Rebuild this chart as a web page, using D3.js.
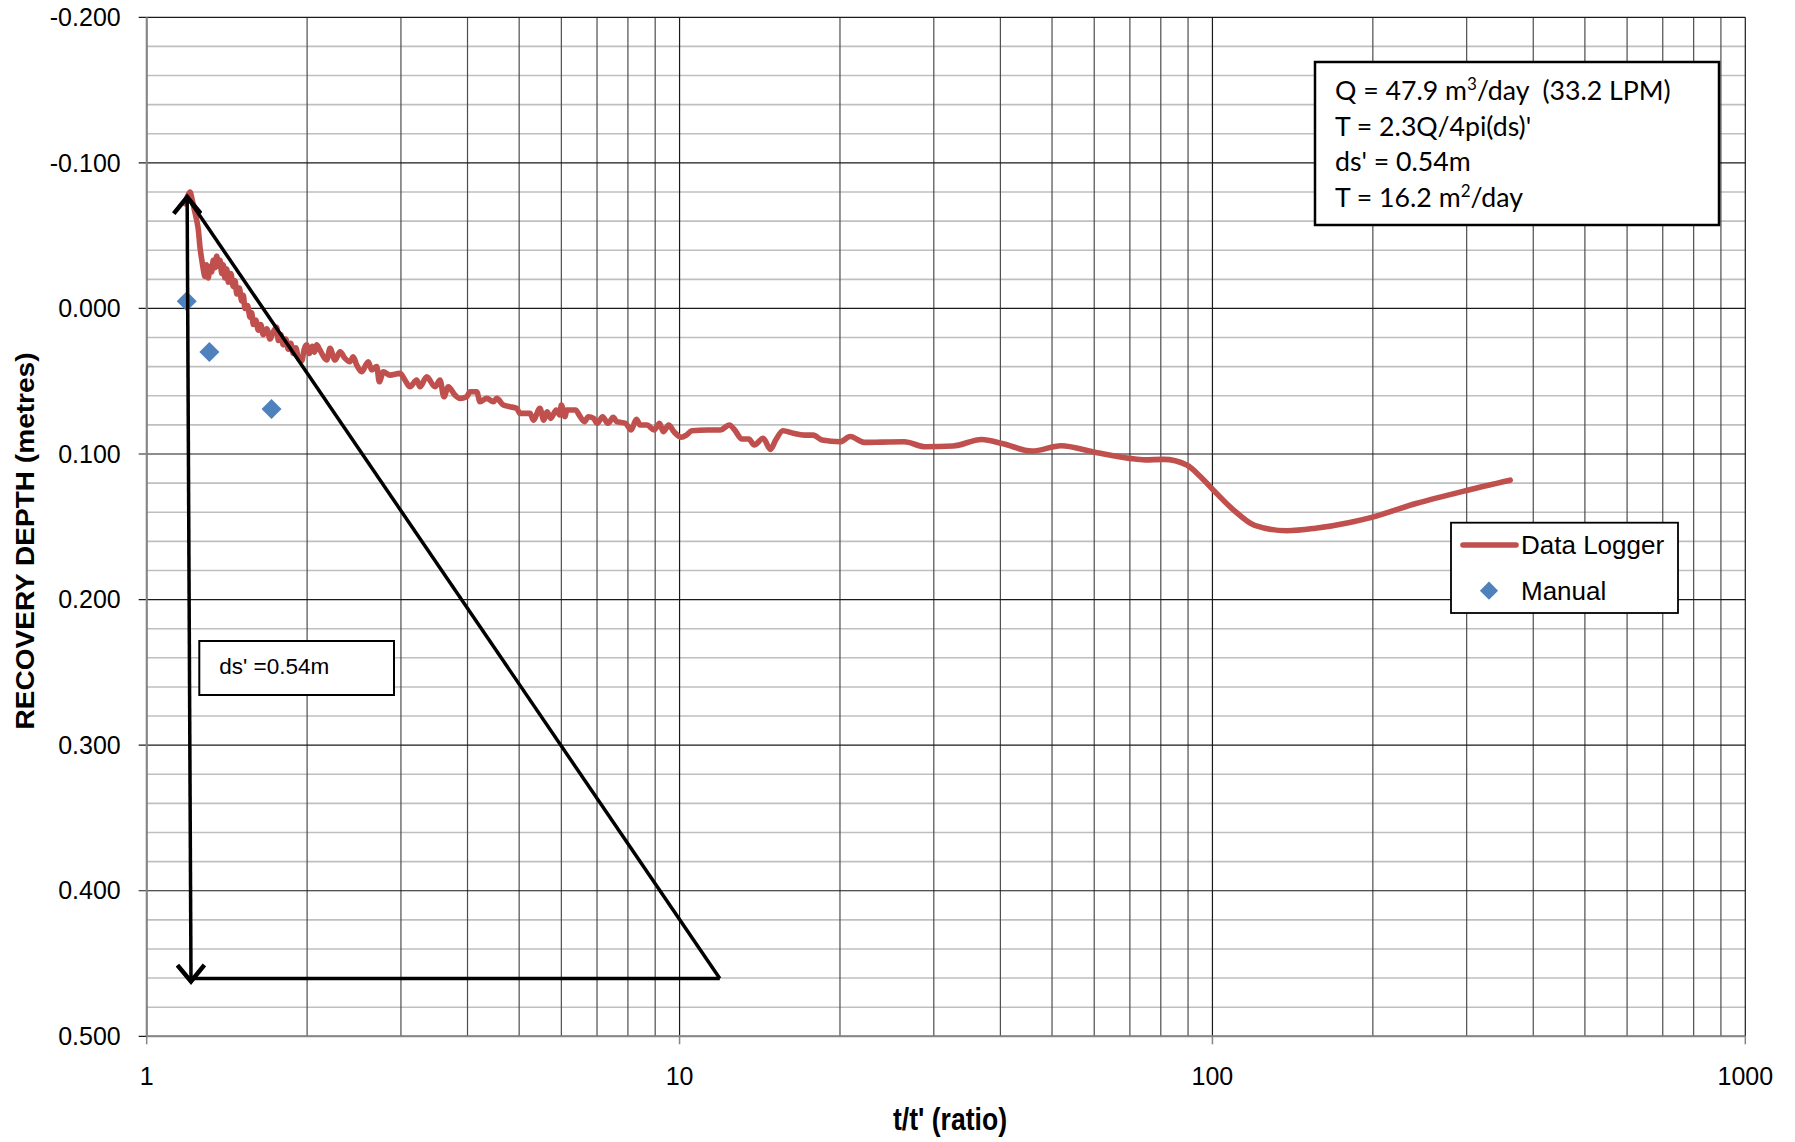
<!DOCTYPE html>
<html>
<head>
<meta charset="utf-8">
<script src="https://cdn.jsdelivr.net/npm/d3@7"></script>
<style>
  html, body { margin: 0; padding: 0; background: #ffffff; }
  svg { display: block; }
</style>
</head>
<body>
<svg id="chart" width="1795" height="1142"></svg>
<script>
// Recovery test - data logger readings (t/t' ratio vs recovery depth in metres)
const loggerRatio = [
    1.180, 1.196, 1.206, 1.218, 1.232, 1.242, 1.250, 1.259, 1.268, 1.277,
    1.286, 1.295, 1.305, 1.314, 1.324, 1.333, 1.343, 1.353, 1.363, 1.373,
    1.383, 1.392, 1.402, 1.413, 1.423, 1.438, 1.454, 1.465, 1.476, 1.492,
    1.508, 1.518, 1.529, 1.546, 1.563, 1.574, 1.585, 1.602, 1.620, 1.637,
    1.655, 1.680, 1.704, 1.728, 1.754, 1.766, 1.785, 1.804, 1.824, 1.844,
    1.864, 1.884, 1.905, 1.925, 1.954, 1.975, 1.996, 2.020, 2.045, 2.065,
    2.084, 2.114, 2.177, 2.208, 2.256, 2.306, 2.356, 2.407, 2.441, 2.478,
    2.531, 2.605, 2.644, 2.702, 2.732, 2.780, 2.861, 2.987, 3.053, 3.119,
    3.211, 3.257, 3.353, 3.475, 3.551, 3.613, 3.681, 3.789, 3.872, 3.986,
    4.044, 4.162, 4.222, 4.346, 4.472, 4.539, 4.670, 4.806, 4.947, 5.018,
    5.241, 5.316, 5.47, 5.56, 5.64, 5.73, 5.87, 5.96, 6.00, 6.10,
    6.14, 6.38, 6.48, 6.63, 6.74, 6.90, 7.00, 7.17, 7.34, 7.51,
    7.62, 7.92, 8.11, 8.30, 8.43, 8.69, 8.96, 9.17, 9.32, 9.54,
    9.76, 10.07, 10.30, 10.54, 11.30, 11.93, 12.40, 12.69, 13.09, 13.49,
    13.81, 14.35, 14.81, 15.15, 15.63, 16.36, 17.14, 17.81, 18.51, 20.0,
    20.9, 22.2, 24.0, 26.4, 28.9, 32.6, 36.9, 40.5, 45.9, 52.0,
    59.6, 70.0, 74.7, 81.0, 89.5, 95.0, 100.4, 109.6, 120, 138,
    156, 181, 199, 241, 300, 362
];
const loggerDepth = [
    -0.072, -0.078, -0.080, -0.074, -0.066, -0.060, -0.054, -0.042, -0.034, -0.027,
    -0.022, -0.030, -0.021, -0.029, -0.025, -0.033, -0.028, -0.036, -0.029, -0.033,
    -0.024, -0.030, -0.021, -0.027, -0.018, -0.024, -0.015, -0.019, -0.010, -0.014,
    -0.005, -0.009, 0.000, -0.002, 0.006, 0.003, 0.011, 0.008, 0.015, 0.011,
    0.018, 0.014, 0.021, 0.016, 0.013, 0.022, 0.018, 0.025, 0.021, 0.028,
    0.024, 0.031, 0.027, 0.034, 0.036, 0.028, 0.025, 0.031, 0.026, 0.030,
    0.025, 0.0286, 0.0354, 0.0274, 0.0354, 0.0297, 0.0343, 0.0366, 0.0332, 0.0389,
    0.0435, 0.0366, 0.0423, 0.0400, 0.0504, 0.0435, 0.0458, 0.0446, 0.0492, 0.0538,
    0.0492, 0.0538, 0.0469, 0.0538, 0.0492, 0.0607, 0.0538, 0.0595, 0.0618, 0.0607,
    0.0572, 0.0572, 0.0641, 0.0618, 0.0641, 0.0618, 0.0664, 0.0675, 0.0686, 0.0721,
    0.0721, 0.0767, 0.0686, 0.0767, 0.0710, 0.0755, 0.0698, 0.0732, 0.0664, 0.0744,
    0.0698, 0.0698, 0.0732, 0.0778, 0.0744, 0.0755, 0.0789, 0.0744, 0.0789, 0.0748,
    0.0778, 0.0789, 0.0835, 0.0762, 0.0801, 0.0801, 0.0835, 0.0789, 0.0847, 0.0801,
    0.0847, 0.0885, 0.0870, 0.0840, 0.0835, 0.0835, 0.0801, 0.0835, 0.0897, 0.0897,
    0.0938, 0.0892, 0.0968, 0.0904, 0.0840, 0.0858, 0.0870, 0.0870, 0.0904, 0.0916,
    0.088, 0.092, 0.0918, 0.0916, 0.095, 0.0945, 0.090, 0.093, 0.098, 0.0943,
    0.0984, 0.103, 0.104, 0.1037, 0.1076, 0.1156, 0.1248, 0.1385, 0.149, 0.1527,
    0.151, 0.147, 0.1435, 0.134, 0.125, 0.118
];

// Manual dip-meter readings
const manualRatio = [1.189, 1.311, 1.715];
const manualDepth = [-0.005, 0.030, 0.069];

// ds' construction: apex, foot of the vertical arrow, end of the horizontal leg
const slopeRatio = [1.191, 1.211, 11.9];
const slopeDepth = [-0.0765, 0.4603, 0.4603];

const yTickValues = [-0.2, -0.1, 0.0, 0.1, 0.2, 0.3, 0.4, 0.5];
const xTickValues = [1, 10, 100, 1000];
const seriesNames = ['Data Logger', 'Manual'];
const xTitle = "t/t' (ratio)";
const yTitle = 'RECOVERY DEPTH (metres)';
const slopeLabel = "ds' =0.54m";

const RED = '#c0504d';
const BLUE = '#4f81bd';
const ARIAL = "'Liberation Sans', Arial, sans-serif";
const CALIBRI = "Lato, 'Open Sans', sans-serif";

const plot = { left: 146.7, right: 1745.3, top: 17.3, bottom: 1036.3 };

const svg = d3.select('#chart');

const x = d3.scaleLog().domain([1, 1000]).range([plot.left, plot.right]);
const y = d3.scaleLinear().domain([-0.2, 0.5]).range([plot.top, plot.bottom]);

// hyphen-minus like the spreadsheet, not the unicode minus
const fmtDepth = d3.formatLocale({ decimal: '.', thousands: ',', grouping: [3], currency: ['', ''], minus: '-' }).format('.3f');

// --- gridlines ---
const grid = svg.append('g').attr('class', 'grid');

const minorY = d3.range(-20, 51, 2).filter(v => v % 10 !== 0).map(v => v / 100);
grid.selectAll('line.minor-y')
    .data(minorY)
    .join('line')
    .attr('class', 'minor-y')
    .attr('x1', plot.left).attr('x2', plot.right)
    .attr('y1', d => y(d)).attr('y2', d => y(d))
    .attr('stroke', '#bfbfbf')
    .attr('stroke-width', 1.6);

const logTicks = x.ticks();
grid.selectAll('line.v')
    .data(logTicks)
    .join('line')
    .attr('class', 'v')
    .attr('x1', d => x(d)).attr('x2', d => x(d))
    .attr('y1', plot.top).attr('y2', plot.bottom)
    .attr('stroke', d => xTickValues.includes(d) ? '#1a1a1a' : '#4d4d4d')
    .attr('stroke-width', 1.2);

grid.selectAll('line.major-y')
    .data(yTickValues)
    .join('line')
    .attr('class', 'major-y')
    .attr('x1', plot.left - 8).attr('x2', plot.right)
    .attr('y1', d => y(d)).attr('y2', d => y(d))
    .attr('stroke', '#1a1a1a')
    .attr('stroke-width', 1.2);

// --- axes ---
const axes = svg.append('g').attr('class', 'axes');

axes.append('line')
    .attr('x1', plot.left).attr('x2', plot.left)
    .attr('y1', plot.top).attr('y2', plot.bottom)
    .attr('stroke', '#868686').attr('stroke-width', 2);

axes.append('line')
    .attr('x1', plot.left).attr('x2', plot.right)
    .attr('y1', plot.bottom).attr('y2', plot.bottom)
    .attr('stroke', '#868686').attr('stroke-width', 2);

axes.selectAll('line.xtick')
    .data(xTickValues)
    .join('line')
    .attr('class', 'xtick')
    .attr('x1', d => x(d)).attr('x2', d => x(d))
    .attr('y1', plot.bottom).attr('y2', plot.bottom + 8)
    .attr('stroke', '#868686').attr('stroke-width', 1.5);

axes.selectAll('text.ylabel')
    .data(yTickValues)
    .join('text')
    .attr('class', 'ylabel')
    .attr('x', 120.7)
    .attr('y', d => y(d))
    .attr('dy', '0.35em')
    .attr('text-anchor', 'end')
    .attr('font-family', ARIAL)
    .attr('font-size', 25)
    .attr('fill', '#000')
    .text(d => fmtDepth(d));

axes.selectAll('text.xlabel')
    .data(xTickValues)
    .join('text')
    .attr('class', 'xlabel')
    .attr('x', d => x(d))
    .attr('y', 1084.5)
    .attr('text-anchor', 'middle')
    .attr('font-family', ARIAL)
    .attr('font-size', 25)
    .attr('fill', '#000')
    .text(d => d);

axes.append('text')
    .attr('x', (plot.left + plot.right) / 2 + 4)
    .attr('y', 1130)
    .attr('text-anchor', 'middle')
    .attr('font-family', ARIAL)
    .attr('font-weight', 'bold')
    .attr('font-size', 32)
    .attr('textLength', 114)
    .attr('lengthAdjust', 'spacingAndGlyphs')
    .text(xTitle);

axes.append('text')
    .attr('transform', 'translate(34,541) rotate(-90)')
    .attr('text-anchor', 'middle')
    .attr('font-family', ARIAL)
    .attr('font-weight', 'bold')
    .attr('font-size', 25)
    .attr('textLength', 377)
    .attr('lengthAdjust', 'spacingAndGlyphs')
    .text(yTitle);

// --- data logger series ---
const loggerPoints = loggerRatio.map((r, i) => [r, loggerDepth[i]]);
const line = d3.line()
    .x(d => x(d[0]))
    .y(d => y(d[1]))
    .curve(d3.curveMonotoneX);

svg.append('path')
    .datum(loggerPoints)
    .attr('d', line)
    .attr('fill', 'none')
    .attr('stroke', RED)
    .attr('stroke-width', 5.6)
    .attr('stroke-linejoin', 'round')
    .attr('stroke-linecap', 'round');

// --- manual readings ---
const diamond = d3.symbol().type(d3.symbolSquare).size(200);
svg.selectAll('path.manual')
    .data(manualRatio.map((r, i) => [r, manualDepth[i]]))
    .join('path')
    .attr('class', 'manual')
    .attr('d', diamond)
    .attr('transform', d => `translate(${x(d[0])},${y(d[1])}) rotate(45)`)
    .attr('fill', BLUE);

// --- ds' construction lines ---
const defs = svg.append('defs');
defs.append('marker')
    .attr('id', 'chevron')
    .attr('viewBox', '-12 -10 14 20')
    .attr('refX', 0).attr('refY', 0)
    .attr('markerUnits', 'userSpaceOnUse')
    .attr('markerWidth', 30).attr('markerHeight', 30)
    .attr('orient', 'auto-start-reverse')
    .append('path')
    .attr('d', 'M-11,-9 L0,0 L-11,9')
    .attr('fill', 'none')
    .attr('stroke', '#000')
    .attr('stroke-width', 3);

const apex = [x(slopeRatio[0]), y(slopeDepth[0])];
const foot = [x(slopeRatio[1]), y(slopeDepth[1])];
const end = [x(slopeRatio[2]), y(slopeDepth[2])];

const construct = svg.append('g').attr('class', 'construction');
construct.append('line')
    .attr('x1', apex[0]).attr('y1', apex[1])
    .attr('x2', foot[0]).attr('y2', foot[1] + 3)
    .attr('stroke', '#000').attr('stroke-width', 3.5)
    .attr('marker-start', 'url(#chevron)')
    .attr('marker-end', 'url(#chevron)');

construct.append('line')
    .attr('x1', foot[0]).attr('y1', foot[1])
    .attr('x2', end[0]).attr('y2', end[1])
    .attr('stroke', '#000').attr('stroke-width', 3.5);

construct.append('line')
    .attr('x1', apex[0]).attr('y1', apex[1])
    .attr('x2', end[0]).attr('y2', end[1])
    .attr('stroke', '#000').attr('stroke-width', 3.5);

// ds' label box
const dsBox = svg.append('g').attr('class', 'ds-box');
dsBox.append('rect')
    .attr('x', 199.3).attr('y', 641)
    .attr('width', 194.7).attr('height', 54)
    .attr('fill', '#fff')
    .attr('stroke', '#000').attr('stroke-width', 2);
dsBox.append('text')
    .attr('x', 219.3).attr('y', 674)
    .attr('font-family', ARIAL)
    .attr('font-size', 22.5)
    .text(slopeLabel);

// --- results box ---
const info = svg.append('g').attr('class', 'info');
info.append('rect')
    .attr('x', 1315).attr('y', 62)
    .attr('width', 404).attr('height', 163)
    .attr('fill', '#fff')
    .attr('stroke', '#000').attr('stroke-width', 2.5);

const infoLines = [
    [['Q = 47.9 m', false], ['3', true], ['/day  (33.2 LPM)', false]],
    [["T = 2.3Q/4pi(ds)'", false]],
    [["ds' = 0.54m", false]],
    [['T = 16.2 m', false], ['2', true], ['/day', false]]
];
const infoBaselines = [100, 135.5, 171, 206.5];

infoLines.forEach((parts, i) => {
    const t = info.append('text')
        .attr('x', 1335).attr('y', infoBaselines[i])
        .attr('font-family', CALIBRI)
        .attr('font-size', 26.7)
        .attr('xml:space', 'preserve')
        .style('white-space', 'pre');
    parts.forEach(([s, sup]) => {
        const span = t.append('tspan').text(s);
        if (sup) span.attr('font-size', 17).attr('dy', -10);
        else if (t.selectAll('tspan').size() > 1) span.attr('dy', 10);
    });
});

// --- legend ---
const legend = svg.append('g').attr('class', 'legend');
legend.append('rect')
    .attr('x', 1451).attr('y', 522.7)
    .attr('width', 227).attr('height', 90.3)
    .attr('fill', '#fff')
    .attr('stroke', '#000').attr('stroke-width', 1.8);
legend.append('line')
    .attr('x1', 1463).attr('x2', 1516)
    .attr('y1', 545).attr('y2', 545)
    .attr('stroke', RED).attr('stroke-width', 5.6)
    .attr('stroke-linecap', 'round');
legend.append('path')
    .attr('d', d3.symbol().type(d3.symbolSquare).size(165)())
    .attr('transform', 'translate(1489,590.7) rotate(45)')
    .attr('fill', BLUE);
legend.selectAll('text')
    .data(seriesNames)
    .join('text')
    .attr('x', 1521)
    .attr('y', (d, i) => i === 0 ? 554 : 600)
    .attr('font-family', ARIAL)
    .attr('font-size', 26)
    .text(d => d);
</script>
</body>
</html>
